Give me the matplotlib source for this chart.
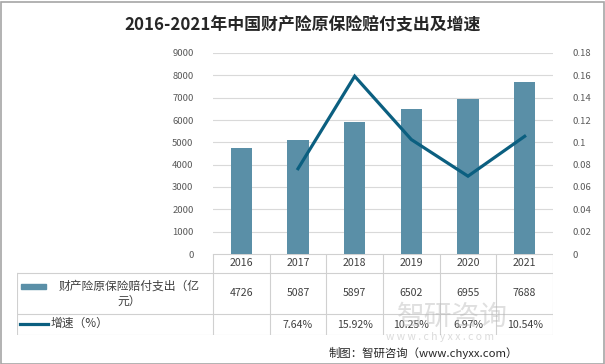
import matplotlib
matplotlib.use('Agg')
import matplotlib.pyplot as plt
from matplotlib.patches import Rectangle
from matplotlib.lines import Line2D
from matplotlib.ticker import FuncFormatter

plt.rcParams['font.family'] = ['Noto Sans CJK SC', 'DejaVu Sans']

years = ['2016', '2017', '2018', '2019', '2020', '2021']
payout = [4726, 5087, 5897, 6502, 6955, 7688]          # 亿元
growth = [None, 0.0764, 0.1592, 0.1025, 0.0697, 0.1054]
growth_labels = ['', '7.64%', '15.92%', '10.25%', '6.97%', '10.54%']

bar_color = '#5a8fa7'
line_color = '#0b5f80'
grid_color = '#d9d9d9'
tick_color = '#595959'

W, H = 605, 364
fig = plt.figure(figsize=(W / 100, H / 100), dpi=100)

# figure frame
fig.patches.append(Rectangle((0.5 / W, 0.5 / H), 1 - 2 / W, 1 - 2 / H, transform=fig.transFigure,
                             fill=False, edgecolor='#a6a6a6', linewidth=1.2))

fig.text(0.5, 1 - 25 / H, '2016-2021年中国财产险原保险赔付支出及增速', ha='center', va='center',
         fontsize=12.2, fontweight='bold', color='#262626')

# main plot area
px_l, px_r, px_t, px_b = 213, 553, 53, 254
ax = fig.add_axes([px_l / W, 1 - px_b / H, (px_r - px_l) / W, (px_b - px_t) / H])
x = list(range(len(years)))
ax.bar(x, payout, width=0.38, color=bar_color, zorder=2)
ax.set_xlim(-0.5, len(years) - 0.5)
ax.set_ylim(0, 9000)
ax.set_yticks(range(0, 9001, 1000))
ax.set_xticks([])
ax.grid(axis='y', color=grid_color, linewidth=0.8, zorder=0)
ax.tick_params(axis='y', length=0, pad=14, labelsize=6.8, labelcolor=tick_color)
for s in ax.spines.values():
    s.set_visible(False)

ax2 = ax.twinx()
gx = [i for i, g in zip(x, growth) if g is not None]
gy = [g for g in growth if g is not None]
ax2.plot(gx, gy, color=line_color, linewidth=2.3, solid_joinstyle='miter', zorder=3)
ax2.set_ylim(0, 0.18)
ax2.set_yticks([round(0.02 * i, 2) for i in range(10)])
ax2.yaxis.set_major_formatter(FuncFormatter(lambda v, p: f'{v:g}'))
ax2.tick_params(axis='y', length=0, pad=14, labelsize=6.8, labelcolor=tick_color)
for s in ax2.spines.values():
    s.set_visible(False)

# data table below the plot
tab_l, tab_b = 17, 335
first_w = (px_l - tab_l) / ((px_r - px_l) / len(years))
tab = fig.add_axes([tab_l / W, 1 - tab_b / H, (px_r - tab_l) / W, (tab_b - px_b) / H])
tab.set_xlim(-0.5 - first_w, len(years) - 0.5)
tab.set_ylim(tab_b - px_b, 0)
tab.axis('off')
rows = [0, 19, 60, 81]
lc = '#d0d0d0'
tab.plot([-0.5, len(years) - 0.5], [rows[0], rows[0]], color=lc, lw=0.8)
for r in rows[1:]:
    tab.plot([-0.5 - first_w, len(years) - 0.5], [r, r], color=lc, lw=0.8)
for i in range(len(years) + 1):
    tab.plot([i - 0.5, i - 0.5], [rows[0], rows[3]], color=lc, lw=0.8)
tab.plot([-0.5 - first_w] * 2, [rows[1], rows[3]], color=lc, lw=0.8)

fs = 7.6
tc = '#404040'
for i, y in enumerate(years):
    tab.text(i, (rows[0] + rows[1]) / 2, y, ha='center', va='center', fontsize=fs, color=tc)
    tab.text(i, (rows[1] + rows[2]) / 2, str(payout[i]), ha='center', va='center', fontsize=fs, color=tc)
    tab.text(i, (rows[2] + rows[3]) / 2, growth_labels[i], ha='center', va='center', fontsize=fs, color=tc)

# legend keys inside the table
x0 = -0.5 - first_w
tab.add_patch(Rectangle((x0 + 0.07, 10.5 + rows[1]), 0.44, 5.5, color=bar_color))
tab.text(x0 + 1.98, (rows[1] + rows[2]) / 2, '财产险原保险赔付支出（亿\n元）', ha='center', va='center',
         fontsize=8.5, color=tc, multialignment='center', linespacing=1.2)
tab.add_line(Line2D([x0 + 0.06, x0 + 0.55], [rows[2] + 10, rows[2] + 10], color=line_color, lw=2.3))
tab.text(x0 + 0.6, rows[2] + 9, '增速（%）', ha='left', va='center', fontsize=8.5, color=tc)

# watermark
fig.text(452 / W, 1 - 317 / H, '智研咨询', ha='center', va='center', fontsize=20,
         color='#b8b8b8', alpha=0.45, zorder=0)
fig.text(440 / W, 1 - 337 / H, 'w w w . c h y x x . c o m', ha='center', va='center', fontsize=7.5,
         color='#b8b8b8', alpha=0.5, zorder=0)

fig.text(518 / W, 1 - 353 / H, '制图：智研咨询（www.chyxx.com）', ha='right', va='center',
         fontsize=8.2, color='#262626')

fig.savefig('out.png', dpi=100)
